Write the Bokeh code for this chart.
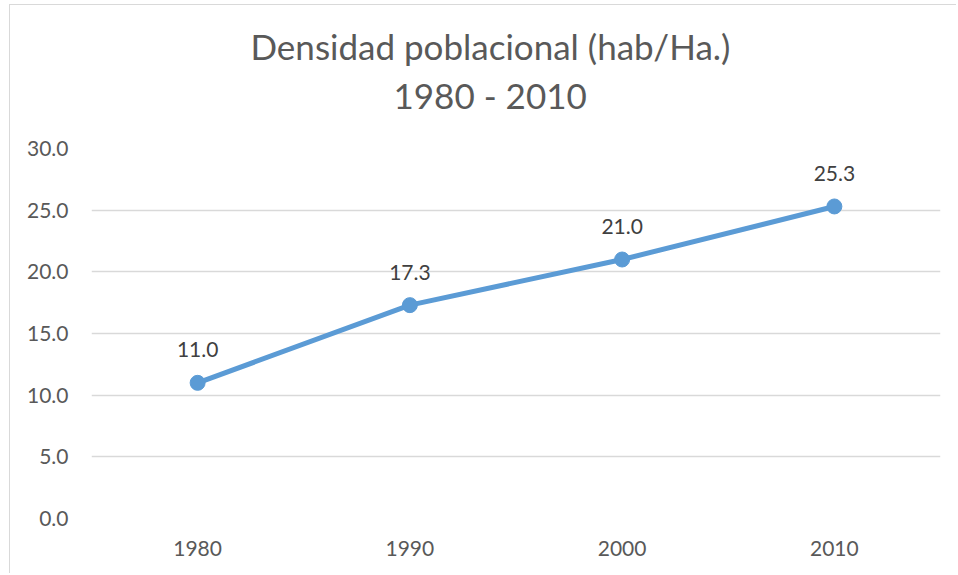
from bokeh.plotting import figure
from bokeh.models import Range1d, FactorRange, LabelSet, ColumnDataSource, FixedTicker, CustomJSTickFormatter, Title
from bokeh.core.properties import value
from bokeh.embed import file_html
from bokeh.resources import INLINE

years = ["1980", "1990", "2000", "2010"]
density = [11.0, 17.3, 21.0, 25.3]
labels = ["11.0", "17.3", "21.0", "25.3"]
y_ticks = [0, 5, 10, 15, 20, 25, 30]
title_line1 = "Densidad poblacional (hab/Ha.)"
title_line2 = "1980 - 2010"

FONT = "Lato"
TXT = "#595959"
BLUE = "#5B9BD5"

src = ColumnDataSource(dict(x=years, y=density, lab=labels))

p = figure(width=947, height=569, x_range=FactorRange(*years), y_range=Range1d(0, 30),
           output_backend="svg", toolbar_location=None, tools="")
p.min_border_left = 81
p.min_border_right = 17
p.min_border_top = 143
p.min_border_bottom = 56
p.outline_line_color = None
p.background_fill_color = "white"
p.border_fill_color = "white"
p.styles = {"margin-left": "9px", "margin-top": "4px",
            "border-left": "1px solid #D9D9D9", "border-top": "1px solid #D9D9D9"}

p.xgrid.grid_line_color = None
p.ygrid.grid_line_color = "#D9D9D9"
p.ygrid.grid_line_width = 1.5

p.yaxis.ticker = FixedTicker(ticks=y_ticks)
p.yaxis.formatter = CustomJSTickFormatter(code="return tick.toFixed(1);")
for ax in (p.xaxis, p.yaxis):
    ax.axis_line_color = None
    ax.major_tick_line_color = None
    ax.minor_tick_line_color = None
    ax.major_label_text_font = FONT
    ax.major_label_text_font_size = "21px"
    ax.major_label_text_color = TXT
p.yaxis.major_label_standoff = 17
p.xaxis.major_label_standoff = 16

p.line("x", "y", source=src, line_color=BLUE, line_width=5)
p.scatter("x", "y", source=src, size=15, fill_color=BLUE, line_color=BLUE)

ls = LabelSet(x="x", y="y", text="lab", source=src, y_offset=33, text_align="center",
              text_baseline="middle", text_font=value(FONT), text_font_size=value("21px"),
              text_color="#404040")
p.add_layout(ls)

p.add_layout(Title(text=title_line2, align="left", offset=302, standoff=66,
                   text_font=FONT, text_font_size="35px", text_color=TXT,
                   text_font_style="normal"), "above")
p.add_layout(Title(text=title_line1, align="left", offset=159, standoff=-56,
                   text_font=FONT, text_font_size="35px", text_color=TXT,
                   text_font_style="normal"), "above")

open("out.html", "w").write(file_html(p, INLINE))
